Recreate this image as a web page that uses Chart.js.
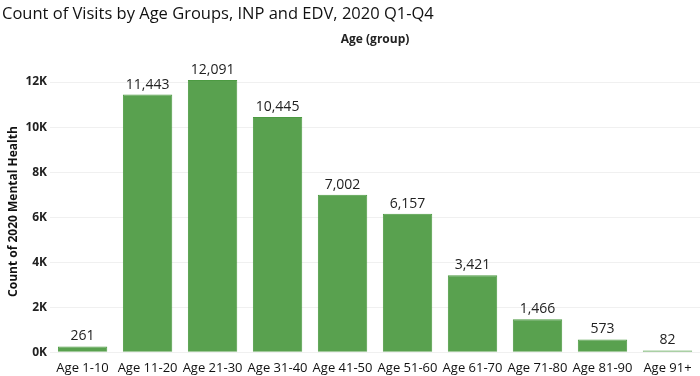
<!DOCTYPE html>
<html><head><meta charset="utf-8">
<script src="https://cdn.jsdelivr.net/npm/chart.js@4/dist/chart.umd.min.js"></script>
<style>html,body{margin:0;padding:0;background:#fff}#w{width:700px;height:376px}</style>
</head><body><div id="w"><canvas id="c"></canvas></div>
<script>
const categories = ["Age 1-10","Age 11-20","Age 21-30","Age 31-40","Age 41-50","Age 51-60","Age 61-70","Age 71-80","Age 81-90","Age 91+"];
const visits = [261,11443,12091,10445,7002,6157,3421,1466,573,82];
const yTicks = [0,2000,4000,6000,8000,10000,12000];

const FONT = "'Open Sans', 'Noto Sans', sans-serif";

const labelsPlugin = {
  id: 'labels',
  afterDatasetsDraw(chart) {
    const ctx = chart.ctx;
    const meta = chart.getDatasetMeta(0);
    ctx.save();
    ctx.font = "14px " + FONT;
    ctx.fillStyle = "#222";
    ctx.textAlign = "center";
    ctx.textBaseline = "bottom";
    meta.data.forEach((bar, i) => {
      ctx.fillText(visits[i].toLocaleString('en-US'), bar.x, bar.y - 3);
    });
    const a = chart.chartArea;
    ctx.font = "bold 12px " + FONT;
    ctx.fillStyle = "#222";
    ctx.textBaseline = "middle";
    ctx.fillText("Age (group)", (a.left + a.right) / 2, 40);
    ctx.restore();
  }
};

new Chart(document.getElementById('c'), {
  type: 'bar',
  data: {
    labels: categories,
    datasets: [{
      data: visits,
      backgroundColor: '#59a14f',
      borderColor: '#4c9a42',
      borderWidth: 1,
      categoryPercentage: 1,
      barPercentage: 0.76
    }]
  },
  options: {
    responsive: true,
    maintainAspectRatio: false,
    animation: false,
    layout: { padding: { top: 0, right: 0, left: 2, bottom: 0 } },
    plugins: {
      legend: { display: false },
      tooltip: { enabled: false },
      title: {
        display: true,
        text: "Count of Visits by Age Groups, INP and EDV, 2020 Q1-Q4",
        align: 'start',
        color: '#111',
        font: { family: FONT, size: 16.5, weight: 'normal' },
        padding: { top: 4, bottom: 47 }
      }
    },
    scales: {
      x: {
        grid: { display: false },
        border: { display: false },
        ticks: { color: '#111', font: { family: FONT, size: 13, lineHeight: 1.05 }, padding: 1, maxRotation: 0 }
      },
      y: {
        min: 0, max: 12500,
        afterBuildTicks(s) { s.ticks = yTicks.map(v => ({ value: v })); },
        grid: { color: '#f0f0f0', drawTicks: false },
        border: { display: false },
        ticks: {
          color: '#222', padding: 3,
          font: { family: FONT, size: 12, weight: 'bold' },
          callback: v => (v / 1000) + 'K'
        },
        title: {
          display: true, text: 'Count of 2020 Mental Health', color: '#111',
          font: { family: FONT, size: 12, weight: 'bold' }, padding: { top: 4, bottom: 2 }
        }
      }
    }
  },
  plugins: [labelsPlugin]
});
</script></body></html>
